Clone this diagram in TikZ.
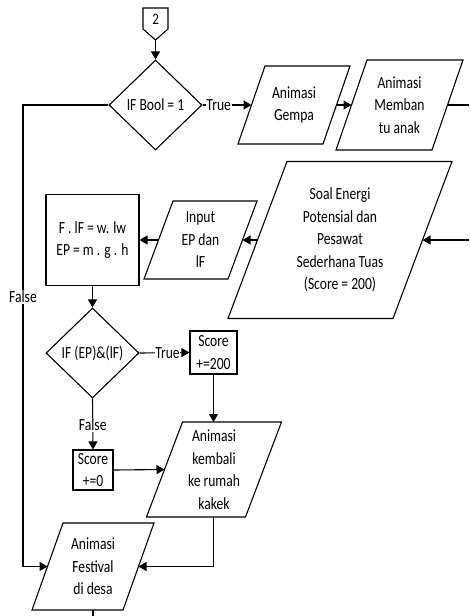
\documentclass[tikz,border=0pt]{standalone}
\usepackage{fontspec}
\setmainfont{Carlito}[FakeStretch=0.8]
\usetikzlibrary{arrows.meta,shapes.geometric}

\newcommand\parabox[7]{%
  \draw[shapeline] ({#2-#4/2+#6/2},{#3-#5/2}) -- ({#2+#4/2+#6/2},{#3-#5/2})
     -- ({#2+#4/2-#6/2},{#3+#5/2}) -- ({#2-#4/2-#6/2},{#3+#5/2}) -- cycle;
  \node[txt] (#1) at (#2,#3) {#7};
  \coordinate (#1-l) at ({#2-#4/2},#3);
  \coordinate (#1-r) at ({#2+#4/2},#3);
  \coordinate (#1-t) at (#2,{#3-#5/2});
  \coordinate (#1-b) at (#2,{#3+#5/2});
}

\tikzset{
  shapeline/.style={draw=black, line width=1.1pt, line join=miter},
  txt/.style={align=center, inner sep=0pt, font=\fontsize{17}{22.5}\selectfont},
  dec/.style={diamond, draw=black, line width=1.1pt, minimum width=93pt, minimum height=90pt, inner sep=0pt, align=center, font=\fontsize{17}{22.5}\selectfont},
  procbox/.style={rectangle, draw=black, line width=1.1pt, inner sep=0pt, align=center, font=\fontsize{17}{22.5}\selectfont},
  conn/.style={line width=1.1pt, -{Triangle[length=8pt,width=9pt]}},
  plain/.style={line width=1.1pt},
  lbl/.style={fill=white, inner sep=0.6pt, font=\fontsize{17}{22.5}\selectfont},
}

\begin{document}
\begin{tikzpicture}[x=1pt,y=-1pt]
\useasboundingbox (0,0) rectangle (469,616);

% off-page connector
\draw[shapeline] (143,8) -- (168,8) -- (168,29) -- (155.5,40) -- (143,29) -- cycle;
\node[txt, font=\fontsize{16}{19}\selectfont] (off) at (155.5,19) {2};
\coordinate (off-b) at (155.5,40);

% decision 1
\node[dec] (d1) at (155.5,105) {IF Bool = 1};

% parallelograms
\parabox{gempa}{294}{105}{85}{78}{27}{Animasi\\Gempa}
\parabox{memban}{399.5}{105}{96}{90}{31}{Animasi\\Memban\\tu anak}
\parabox{soal}{340}{240}{165}{157}{59}{Soal Energi\\Potensial dan\\Pesawat\\Sederhana Tuas\\(Score = 200)}
\parabox{input}{200.5}{240}{84}{78}{29}{Input\\EP dan\\lF}
\parabox{kembali}{214}{469.5}{99}{95}{36}{Animasi\\kembali\\ke rumah\\kakek}
\parabox{festival}{93}{566.5}{91}{87}{31}{Animasi\\Festival\\di desa}

% process boxes
\node[procbox, minimum width=93pt, minimum height=91pt] (calc) at (92.5,240) {F . lF = w. lw\\EP = m . g . h};
\node[dec] (d2) at (92.5,353) {IF (EP)\&(lF)};
\node[procbox, minimum width=47pt, minimum height=43pt] (s200) at (213.5,352.5) {Score\\+=200};
\node[procbox, minimum width=40pt, minimum height=40pt] (s0) at (93,470) {Score\\+=0};

% helper coordinates
\coordinate (fa) at (23,105);
\coordinate (fb) at (23,566.5);
\coordinate (exitA) at (469,105);
\coordinate (entryB) at (469,240);
\coordinate (kb) at (213.5,566.5);
\coordinate (exitC) at (93,616);

% connectors
\draw[conn] (off-b) -- (d1.north);
\draw[conn] (d1.east) -- node[lbl, pos=0.33] {True} (gempa-l);
\draw[conn] (gempa-r) -- (memban-l);
\draw[plain] (memban-r) -- (exitA);
\draw[conn] (entryB) -- (soal-r);
\draw[conn] (soal-l) -- (input-r);
\draw[conn] (input-l) -- (calc.east);
\draw[conn] (calc.south) -- (d2.north);
\draw[conn] (d2.east) -- node[lbl, pos=0.56] {True} (s200.west);
\draw[conn] (s200.south) -- (s200.south |- kembali-t);
\draw[conn] (d2.south) -- node[lbl, pos=0.52] {False} (s0.north);
\draw[conn] (s0.east) -- (kembali-l);
\draw[conn] (d1.west) -- (fa) -- node[lbl, pos=0.416] {False} (fb) -- (festival-l);
\draw[conn] (s200.south |- kembali-b) -- (kb) -- (festival-r);
\draw[plain] (festival-b) -- (exitC);
\end{tikzpicture}
\end{document}
